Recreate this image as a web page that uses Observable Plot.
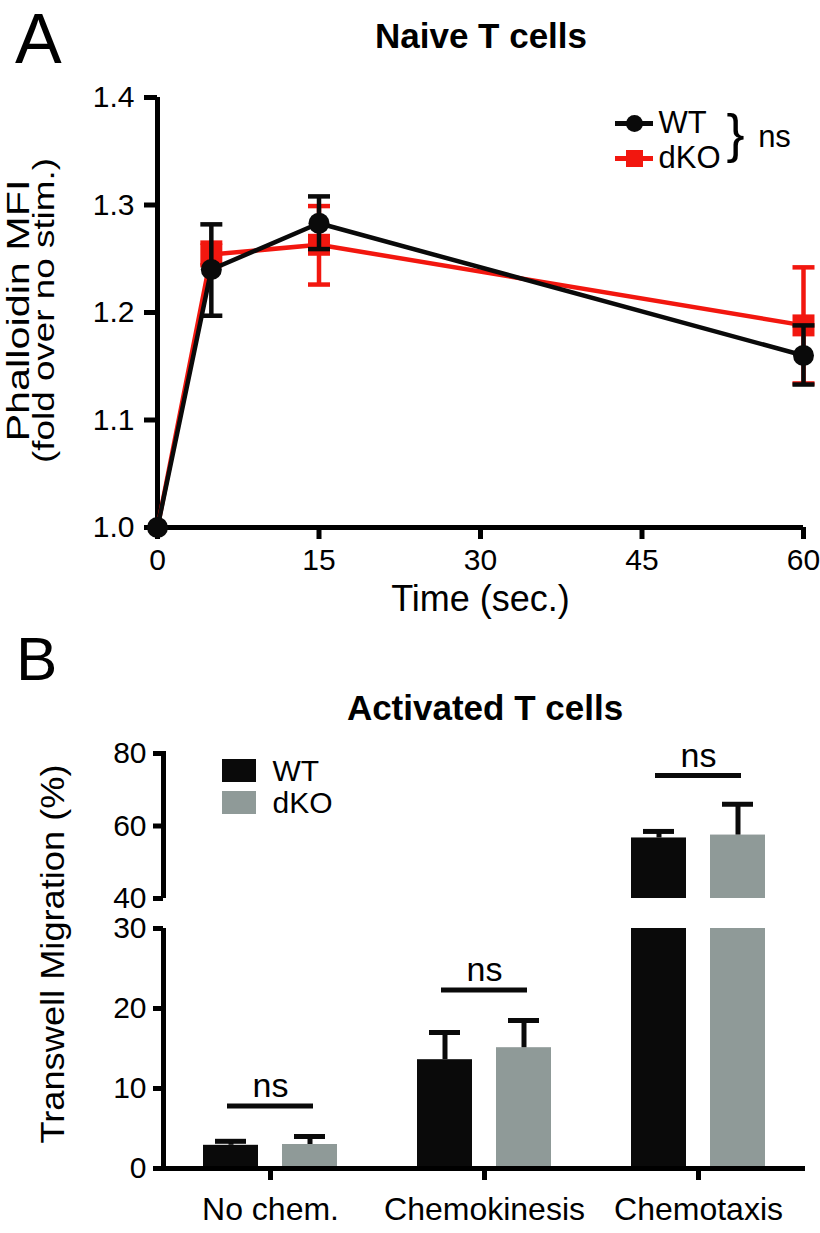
<!DOCTYPE html>
<html>
<head>
<meta charset="utf-8">
<script src="https://cdn.jsdelivr.net/npm/d3@7"></script>
<script src="https://cdn.jsdelivr.net/npm/@observablehq/plot@0.6"></script>
<style>
  body { margin: 0; background: #fff; }
  #page { position: relative; width: 820px; height: 1233px; overflow: hidden;
          font-family: 'Liberation Sans', Arial, Helvetica, sans-serif; color: #000; background: #fff; }
  .abs { position: absolute; line-height: 1; white-space: nowrap; }
  .letter { font-weight: normal; }
  .title { font-weight: bold; transform: translateX(-50%); }
</style>
</head>
<body>
<div id="page">
  <div id="chartA" class="abs" style="left:0;top:0"></div>
  <div id="chartB" class="abs" style="left:0;top:620px"></div>
  <div id="legendA" class="abs" style="left:605px;top:105px"></div>
  <div id="legendB" class="abs" style="left:215px;top:745px"></div>
  <div class="abs letter" style="left:15px;top:4px;font-size:70px">A</div>
  <div class="abs title" style="left:481px;top:18px;font-size:35px">Naive T cells</div>
  <div class="abs letter" style="left:16px;top:628px;font-size:62px">B</div>
  <div class="abs title" style="left:485px;top:690px;font-size:35px">Activated T cells</div>
</div>
<script>
// ---------- Panel A data ----------
const timeSec = [0, 5, 15, 60];
const seriesA = ["WT", "dKO"];
const wtMfiMean = [1.000, 1.240, 1.283, 1.160];
const wtMfiLow  = [1.000, 1.197, 1.259, 1.133];
const wtMfiHigh = [1.000, 1.282, 1.308, 1.188];
const dkoMfiMean = [1.000, 1.254, 1.263, 1.188];
const dkoMfiLow  = [1.000, 1.244, 1.226, 1.134];
const dkoMfiHigh = [1.000, 1.265, 1.299, 1.242];
const xTicksA = [0, 15, 30, 45, 60];
const yTicksA = [1.0, 1.1, 1.2, 1.3, 1.4];

// ---------- Panel B data ----------
const categoriesB = ["No chem.", "Chemokinesis", "Chemotaxis"];
const groupsB = ["WT", "dKO"];
const wtMigration = [2.9, 13.6, 56.7];
const wtMigrationErr = [0.5, 3.4, 1.8];
const dkoMigration = [3.0, 15.1, 57.5];
const dkoMigrationErr = [1.0, 3.4, 8.5];
const nsLevel = [7.8, 22.3, 73.9];
const yTicksB = [0, 10, 20, 30, 40, 60, 80];
const yBreakB = [30, 40];
const yMaxB = 80;

// ---------- styles ----------
const BLACK = "#0a0a0a", RED = "#f2170f", GRAY = "#8f9a98";
const FONT = "'Liberation Sans', Arial, Helvetica, sans-serif";

// tables built from the arrays
const mfiTable = {
  WT: {mean: wtMfiMean, lo: wtMfiLow, hi: wtMfiHigh},
  dKO: {mean: dkoMfiMean, lo: dkoMfiLow, hi: dkoMfiHigh}
};
const rowsA = seriesA.flatMap(s => timeSec.map((t, i) => ({
  series: s, t, mean: mfiTable[s].mean[i], lo: mfiTable[s].lo[i], hi: mfiTable[s].hi[i]
})));

const capSymbol = {
  draw(context, size) {
    const w = Math.sqrt(size / Math.PI);
    context.moveTo(-w, 0);
    context.lineTo(w, 0);
  }
};

function seriesMarks(name, symbol, r, markerAll) {
  const rows = rowsA.filter(d => d.series === name);
  const err = rows.filter(d => d.hi > d.lo);
  return [
    Plot.line(rows, {x: "t", y: "mean", stroke: "series", strokeWidth: 4.5}),
    Plot.ruleX(err, {x: "t", y1: "lo", y2: "hi", stroke: "series", strokeWidth: 4.5}),
    Plot.dot(err, {x: "t", y: "lo", symbol: capSymbol, r: 11, stroke: "series", fill: "none", strokeWidth: 4.5}),
    Plot.dot(err, {x: "t", y: "hi", symbol: capSymbol, r: 11, stroke: "series", fill: "none", strokeWidth: 4.5}),
    Plot.dot(markerAll ? rows : err, {x: "t", y: "mean", symbol, r, fill: "series", stroke: null})
  ];
}

function stretchText(svg, content, length) {
  svg.querySelectorAll("text").forEach(t => {
    if (t.textContent === content) {
      t.setAttribute("textLength", length);
      t.setAttribute("lengthAdjust", "spacingAndGlyphs");
    }
  });
}

const chartA = Plot.plot({
  width: 820, height: 620,
  marginLeft: 157, marginRight: 17, marginTop: 97, marginBottom: 93,
  style: {fontFamily: FONT, fontSize: "30px", color: "#000", background: "transparent", overflow: "visible"},
  x: {domain: [xTicksA[0], xTicksA[xTicksA.length - 1]]},
  y: {domain: [yTicksA[0], yTicksA[yTicksA.length - 1]]},
  color: {domain: seriesA, range: [BLACK, RED]},
  marks: [
    Plot.axisX({ticks: xTicksA, tickSize: 12, tickPadding: 9, strokeWidth: 5, fontSize: 30, label: null}),
    Plot.axisY({ticks: yTicksA, tickFormat: d3.format(".1f"), tickSize: 13, tickPadding: 10, strokeWidth: 5, fontSize: 30, label: null}),
    Plot.ruleX([xTicksA[0]], {strokeWidth: 5, stroke: "#000"}),
    Plot.ruleY([yTicksA[0]], {strokeWidth: 5, stroke: "#000", insetLeft: -6}),
    ...seriesMarks("dKO", "square", 12.4, false),
    ...seriesMarks("WT", "circle", 10.5, true),
    Plot.text(["Time (sec.)"], {text: d => d, frameAnchor: "bottom", lineAnchor: "top", dy: 58, fontSize: 36, fill: "#000"}),
    Plot.text(["Phalloidin MFI"], {text: d => d, frameAnchor: "left", textAnchor: "middle", lineAnchor: "middle", rotate: -90, dx: -138, dy: -2, fontSize: 31, fill: "#000"}),
    Plot.text(["(fold over no stim.)"], {text: d => d, frameAnchor: "left", textAnchor: "middle", lineAnchor: "middle", rotate: -90, dx: -113.5, dy: -2, fontSize: 30, fill: "#000"})
  ]
});
stretchText(chartA, "Phalloidin MFI", 262);
stretchText(chartA, "(fold over no stim.)", 305);
document.getElementById("chartA").appendChild(chartA);

// Legend A (its own little plot)
const legendA = Plot.plot({
  width: 215, height: 70, margin: 0,
  style: {fontFamily: FONT, fontSize: "31px", color: "#000", background: "transparent", overflow: "visible"},
  x: {domain: [0, 1], range: [10, 48], axis: null},
  y: {type: "point", domain: seriesA, range: [18, 53], padding: 0, axis: null},
  color: {domain: seriesA, range: [BLACK, RED]},
  marks: [
    Plot.ruleY(seriesA, {y: d => d, x1: 0, x2: 1, stroke: d => d, strokeWidth: 5}),
    Plot.dot([seriesA[0]], {x: 0.5, y: d => d, r: 8.5, symbol: "circle", fill: d => d, stroke: null}),
    Plot.dot([seriesA[1]], {x: 0.5, y: d => d, r: 9.6, symbol: "square", fill: d => d, stroke: null}),
    Plot.text(seriesA, {x: 1, y: d => d, text: d => d, dx: 5, textAnchor: "start", fontSize: 31, fill: "#000"}),
    Plot.text(["}"], {x: 1, text: d => d, dx: 82, dy: -6, textAnchor: "middle", fontSize: 54, fill: "#000"}),
    Plot.text(["ns"], {x: 1, text: d => d, dx: 121, dy: -3, textAnchor: "middle", fontSize: 31, fill: "#000"})
  ]
});
document.getElementById("legendA").appendChild(legendA);

// ---------- Panel B ----------
const migTable = {
  WT: {mean: wtMigration, err: wtMigrationErr},
  dKO: {mean: dkoMigration, err: dkoMigrationErr}
};
const rowsB = categoriesB.flatMap((c, i) => groupsB.map(g => ({
  category: c, group: g, mean: migTable[g].mean[i], err: migTable[g].err[i]
})));
const nsRows = categoriesB.map((c, i) => ({category: c, level: nsLevel[i]}));

const hB = 613, mTopB = 133, mBottomB = 65;
const yBottomB = hB - mBottomB;
const chartB = Plot.plot({
  width: 820, height: hB,
  marginLeft: 162, marginRight: 15, marginTop: mTopB, marginBottom: mBottomB,
  style: {fontFamily: FONT, fontSize: "30px", color: "#000", background: "transparent", overflow: "visible"},
  fx: {domain: categoriesB, padding: 0, label: null},
  x: {domain: groupsB, paddingInner: 0.3, paddingOuter: 0.49, axis: null},
  y: {type: "linear", domain: [0, yBreakB[0], yBreakB[1], yMaxB], range: [yBottomB, yBottomB - 240, yBottomB - 270, mTopB]},
  color: {domain: groupsB, range: [BLACK, GRAY]},
  marks: [
    Plot.frame({anchor: "left", strokeWidth: 5, stroke: "#000", facetAnchor: "left"}),
    Plot.barY(rowsB, {fx: "category", x: "group", y: "mean", fill: "group"}),
    Plot.ruleX(rowsB, {fx: "category", x: "group", y1: "mean", y2: d => d.mean + d.err, stroke: BLACK, strokeWidth: 5}),
    Plot.tickY(rowsB, {fx: "category", x: "group", y: d => d.mean + d.err, stroke: BLACK, strokeWidth: 5, insetLeft: 12, insetRight: 12}),
    Plot.rectY([yBreakB], {y1: d => d[0], y2: d => d[1], fill: "#fff", insetLeft: -14}),
    Plot.ruleY([0], {stroke: "#000", strokeWidth: 5, insetLeft: -9}),
    Plot.ruleY(nsRows, {fx: "category", y: "level", stroke: BLACK, strokeWidth: 5, insetLeft: 64, insetRight: 64}),
    Plot.text(nsRows, {fx: "category", y: "level", text: () => "ns", lineAnchor: "bottom", dy: -9, fontSize: 34, fill: "#000"}),
    Plot.axisY({ticks: yTicksB, tickSize: 10, tickPadding: 7, strokeWidth: 5, fontSize: 30, label: null}),
    Plot.axisFx({anchor: "bottom", tickSize: 12, tickPadding: 17, strokeWidth: 5, fontSize: 32, label: null}),
    Plot.text(["Transwell Migration (%)"], {text: d => d, frameAnchor: "left", textAnchor: "middle", lineAnchor: "middle", rotate: -90, dx: -110, dy: -7, fontSize: 34, facetAnchor: "left", fill: "#000"})
  ]
});
stretchText(chartB, "Transwell Migration (%)", 379);
document.getElementById("chartB").appendChild(chartB);

// Legend B (its own little plot)
const legendB = Plot.plot({
  width: 150, height: 80, margin: 0,
  style: {fontFamily: FONT, fontSize: "30px", color: "#000", background: "transparent", overflow: "visible"},
  x: {domain: [0, 1], range: [7, 41], axis: null},
  y: {domain: groupsB, range: [9, 74], paddingInner: 0.27, paddingOuter: 0.135, axis: null},
  color: {domain: groupsB, range: [BLACK, GRAY]},
  marks: [
    Plot.barX(groupsB, {x1: 0, x2: 1, y: d => d, fill: d => d}),
    Plot.text(groupsB, {x: 1, y: d => d, text: d => d, dx: 16, textAnchor: "start", fontSize: 30, fill: "#000"})
  ]
});
document.getElementById("legendB").appendChild(legendB);
</script>
</body>
</html>
